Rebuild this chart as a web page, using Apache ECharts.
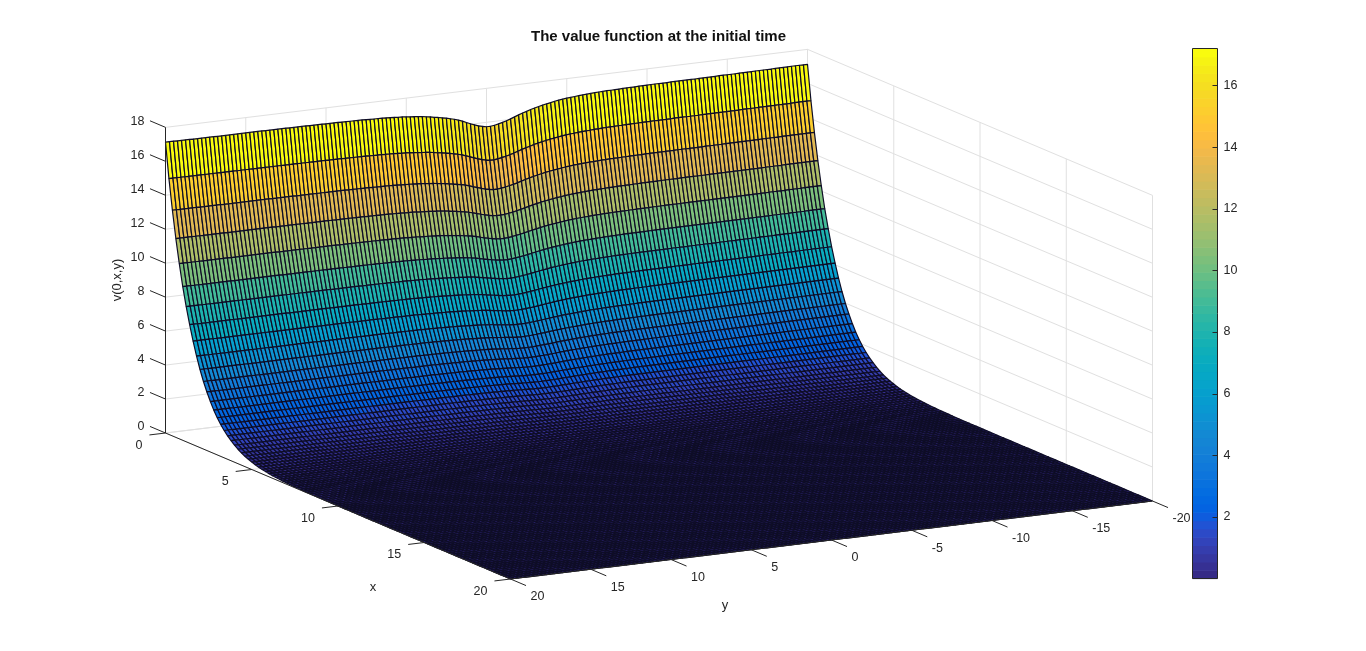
<!DOCTYPE html>
<html><head><meta charset="utf-8">
<style>html,body{margin:0;padding:0;background:#fff}#c{width:1366px;height:651px}</style>
<script src="https://cdn.jsdelivr.net/npm/echarts@6/dist/echarts.min.js"></script>
</head><body><div id="c"></div>
<script>
// tick labels
var xTicks=[0,5,10,15,20];
var yTicks=[20,15,10,5,0,-5,-10,-15,-20];
var zTicks=[0,2,4,6,8,10,12,14,16,18];
var colorTicks=[2,4,6,8,10,12,14,16];
// v(0,x,y) along x (step 0.2) at the flat edge of the surface
var profile=[17.13,15.07,13.29,11.71,10.32,9.05,7.96,6.98,6.10,5.30,
4.60,3.98,3.45,2.97,2.55,2.19,1.88,1.61,1.38,1.18,
1.00,.85,.72,.61,.52,.44,.37,.31,.26,.22,
.185,.155,.13,.11,.09,.075,.063,.053,.044,.037,
.031,.026,.022,.018,.015,.013,.011,.009,.008,.007,
.006,.005,.004,.004,.003,.003,.002,.002,.002,.002,
.001,.001,.001,.001,.001,.001,.001,.001,.001,.001,
.001,.001,.001,.001,.001,.001,.001,.001,.001,.001,
.001,.001,.001,.001,.001,.001,.001,.001,.001,.001,
.001,.001,.001,.001,.001,.001,.001,.001,.001,.001,.001];
// depth of the dip at x=0 along y (y=20 down to y=-20, step 0.25)
var dip=[0,0,0,.01,.01,.01,.01,.02,.02,.02,.02,.02,.02,.03,.03,.03,.03,.03,.03,.03,.03,
.03,.03,.03,.03,.04,.04,.04,.04,.04,.04,.05,.05,.05,.05,.05,.06,.06,.06,.06,.07,
.07,.07,.07,.08,.08,.09,.09,.10,.10,.11,.12,.13,.13,.14,.15,.16,.18,.20,.21,.24,
.26,.28,.31,.34,.37,.41,.46,.50,.55,.60,.66,.72,.80,.89,1.00,1.10,1.19,1.28,1.34,1.39,
1.39,1.36,1.31,1.25,1.18,1.10,1.01,.92,.84,.77,.69,.63,.57,.52,.47,.43,.38,.34,.31,.28,
.26,.24,.22,.20,.19,.17,.16,.15,.14,.13,.13,.12,.12,.11,.11,.10,.10,.09,.09,.09,
.08,.08,.08,.08,.08,.07,.07,.07,.07,.07,.07,.07,.06,.06,.06,.06,.06,.05,.05,.05,
.05,.05,.04,.04,.04,.04,.03,.03,.03,.03,.03,.02,.02,.02,.02,.01,.01,.01,.01,.01];
var parula=[[.2081,.1663,.5292],[.2116,.1898,.5777],[.2123,.2138,.6270],[.2081,.2386,.6771],[.1959,.2645,.7279],[.1707,.2919,.7792],[.1253,.3242,.8303],[.0591,.3598,.8683],[.0117,.3875,.8820],[.0060,.4086,.8828],[.0165,.4266,.8786],[.0329,.4430,.8720],[.0498,.4586,.8641],[.0629,.4737,.8554],[.0723,.4887,.8467],[.0779,.5040,.8384],[.0793,.5200,.8312],[.0749,.5375,.8263],[.0641,.5570,.8240],[.0488,.5772,.8228],[.0343,.5966,.8199],[.0265,.6137,.8135],[.0239,.6287,.8038],[.0231,.6418,.7913],[.0228,.6535,.7768],[.0267,.6642,.7607],[.0384,.6743,.7436],[.0590,.6838,.7254],[.0843,.6928,.7062],[.1133,.7015,.6859],[.1453,.7098,.6646],[.1801,.7177,.6424],[.2178,.7250,.6193],[.2586,.7317,.5954],[.3022,.7376,.5712],[.3482,.7424,.5473],[.3953,.7459,.5244],[.4420,.7481,.5033],[.4871,.7491,.4840],[.5300,.7491,.4661],[.5709,.7485,.4494],[.6099,.7473,.4337],[.6473,.7456,.4188],[.6834,.7435,.4044],[.7184,.7411,.3905],[.7525,.7384,.3768],[.7858,.7356,.3633],[.8185,.7327,.3498],[.8507,.7299,.3360],[.8824,.7274,.3217],[.9139,.7258,.3063],[.9450,.7261,.2886],[.9739,.7314,.2666],[.9938,.7455,.2403],[.9990,.7653,.2164],[.9955,.7861,.1967],[.9880,.8066,.1794],[.9789,.8271,.1633],[.9697,.8481,.1475],[.9626,.8705,.1309],[.9589,.8949,.1132],[.9598,.9218,.0948],[.9661,.9514,.0755],[.9763,.9831,.0538]];

var INK='#262626', GRID='#e0e0e0', FONT='"Liberation Sans",Arial,sans-serif';
var VMAX=profile[0], BARMAX=17.2;
var colors=parula.map(function(c){return 'rgb('+Math.round(c[0]*255)+','+Math.round(c[1]*255)+','+Math.round(c[2]*255)+')';});
function colorOf(v){var k=Math.floor(v/VMAX*64);return colors[Math.max(0,Math.min(63,k))];}

// orthographic view of the 3-D box, as the axis plane sees it
function project(x,y,z){return [165.5+17.25*x+16.05*(20-y), 433+7.3*x-1.95*(20-y)-16.98*z];}
function val(i,j){return profile[i]*(1-dip[j]/profile[0]);}

// wall and floor grid lines: [x1,y1,z1,x2,y2,z2]
var gridSegs=[];
yTicks.forEach(function(y){gridSegs.push([0,y,0,0,y,18]);gridSegs.push([0,y,0,20,y,0]);});
xTicks.forEach(function(x){gridSegs.push([x,-20,0,x,-20,18]);gridSegs.push([x,20,0,x,-20,0]);});
zTicks.forEach(function(z){gridSegs.push([0,20,z,0,-20,z]);gridSegs.push([0,-20,z,20,-20,z]);});

// axis lines and ticks
var axisSegs=[[0,20,0,0,20,18],[0,20,0,20,20,0],[20,20,0,20,-20,0]];
zTicks.forEach(function(z){axisSegs.push([0,20,z,-.9,20,z]);});
xTicks.forEach(function(x){axisSegs.push([x,20,0,x,21,0]);});
yTicks.forEach(function(y){axisSegs.push([20,y,0,20.9,y,0]);});

var cells=[];
for(var i=0;i<profile.length-1;i++)for(var j=0;j<dip.length-1;j++)cells.push([i,j]);

function segSeries(data,color,lw,z){
  return {type:'custom',xAxisIndex:0,yAxisIndex:0,silent:true,z:z,data:data,clip:false,
    renderItem:function(p,api){
      var a=api.coord(project(api.value(0),api.value(1),api.value(2)));
      var b=api.coord(project(api.value(3),api.value(4),api.value(5)));
      return {type:'line',shape:{x1:a[0],y1:a[1],x2:b[0],y2:b[1]},style:{stroke:color,lineWidth:lw,fill:null}};
    }};
}
function textSeries(data,z,fn){
  return {type:'custom',xAxisIndex:0,yAxisIndex:0,silent:true,z:z,data:data,clip:false,
    renderItem:function(p,api){
      var o=fn(api.value(0));
      var c=api.coord(o.pos);
      return {type:'text',x:c[0]+o.dx,y:c[1]+o.dy,style:{text:o.text,fill:INK,font:'12.5px '+FONT,align:o.align,verticalAlign:'middle'}};
    }};
}

var chart=echarts.init(document.getElementById('c'),null,{renderer:'canvas'});
chart.setOption({
  animation:false,backgroundColor:'#fff',
  title:{text:'The value function at the initial time',left:531,top:29,padding:0,
    textStyle:{fontFamily:FONT,fontSize:15,fontWeight:'bold',color:'#111'}},
  grid:[{left:0,top:0,width:1366,height:651,show:false},
        {left:1192.5,top:48.5,width:25,height:530,show:true,backgroundColor:'transparent',borderColor:INK,borderWidth:1,z:5}],
  xAxis:[{type:'value',min:0,max:1366,show:false,gridIndex:0},{type:'value',min:0,max:1,show:false,gridIndex:1}],
  yAxis:[{type:'value',min:0,max:651,inverse:true,show:false,gridIndex:0},
    {type:'value',min:0,max:BARMAX,interval:2,gridIndex:1,position:'right',z:6,
     axisLine:{show:false},splitLine:{show:false},axisTick:{show:false},
     axisLabel:{color:INK,fontFamily:FONT,fontSize:12.5,margin:6,showMinLabel:false,showMaxLabel:false,
       formatter:function(v){return colorTicks.indexOf(v)>=0?String(v):'';}}}],
  series:[
    segSeries(gridSegs,GRID,1,1),
    {type:'custom',xAxisIndex:0,yAxisIndex:0,silent:true,z:2,progressive:0,data:cells,clip:false,
     renderItem:function(p,api){
       var i=api.value(0),j=api.value(1);
       var pts=[[i,j],[i,j+1],[i+1,j+1],[i+1,j]].map(function(q){
         return api.coord(project(q[0]*0.2,20-q[1]*0.25,val(q[0],q[1])));});
       return {type:'polygon',shape:{points:pts},style:{fill:colorOf(val(i,j)),stroke:'#0e0d26',lineWidth:1.2,lineJoin:'bevel'}};
     }},
    segSeries(axisSegs,INK,1,3),
    textSeries(zTicks,4,function(v){return {pos:project(0,20,v),dx:-21,dy:-6,text:String(v),align:'right'};}),
    textSeries(xTicks,4,function(v){return {pos:project(v,20,0),dx:-23,dy:12.5,text:String(v),align:'right'};}),
    textSeries(yTicks,4,function(v){return {pos:project(20,v,0),dx:20,dy:18,text:String(v),align:'left'};}),
    {type:'custom',xAxisIndex:0,yAxisIndex:0,silent:true,z:4,data:[[0]],clip:false,
     renderItem:function(p,api){
       var mk=function(t,x,y,r){var c=api.coord([x,y]);return {type:'text',x:c[0],y:c[1],rotation:r,style:{text:t,fill:INK,font:'13px '+FONT,align:'center',verticalAlign:'middle'}};};
       return {type:'group',children:[mk('v(0,x,y)',117,280,Math.PI/2),mk('x',373,587,0),mk('y',725,605,0)]};
     }},
    {type:'custom',xAxisIndex:1,yAxisIndex:1,silent:true,z:3,data:colors.map(function(c,k){return [k];}),
     renderItem:function(p,api){
       var k=api.value(0);
       var a=api.coord([0,k/64*BARMAX]),b=api.coord([1,(k+1)/64*BARMAX]);
       return {type:'rect',shape:{x:a[0],y:b[1],width:b[0]-a[0],height:a[1]-b[1]+.6},style:{fill:colors[k]}};
     }},
    {type:'custom',xAxisIndex:1,yAxisIndex:1,silent:true,z:7,data:colorTicks.map(function(v){return [v];}),
     renderItem:function(p,api){
       var a=api.coord([1,api.value(0)]);
       var yy=Math.round(a[1])+.5;
       return {type:'line',shape:{x1:a[0]-5,y1:yy,x2:a[0],y2:yy},style:{stroke:INK,lineWidth:1}};
     }}
  ]
});
</script></body></html>
